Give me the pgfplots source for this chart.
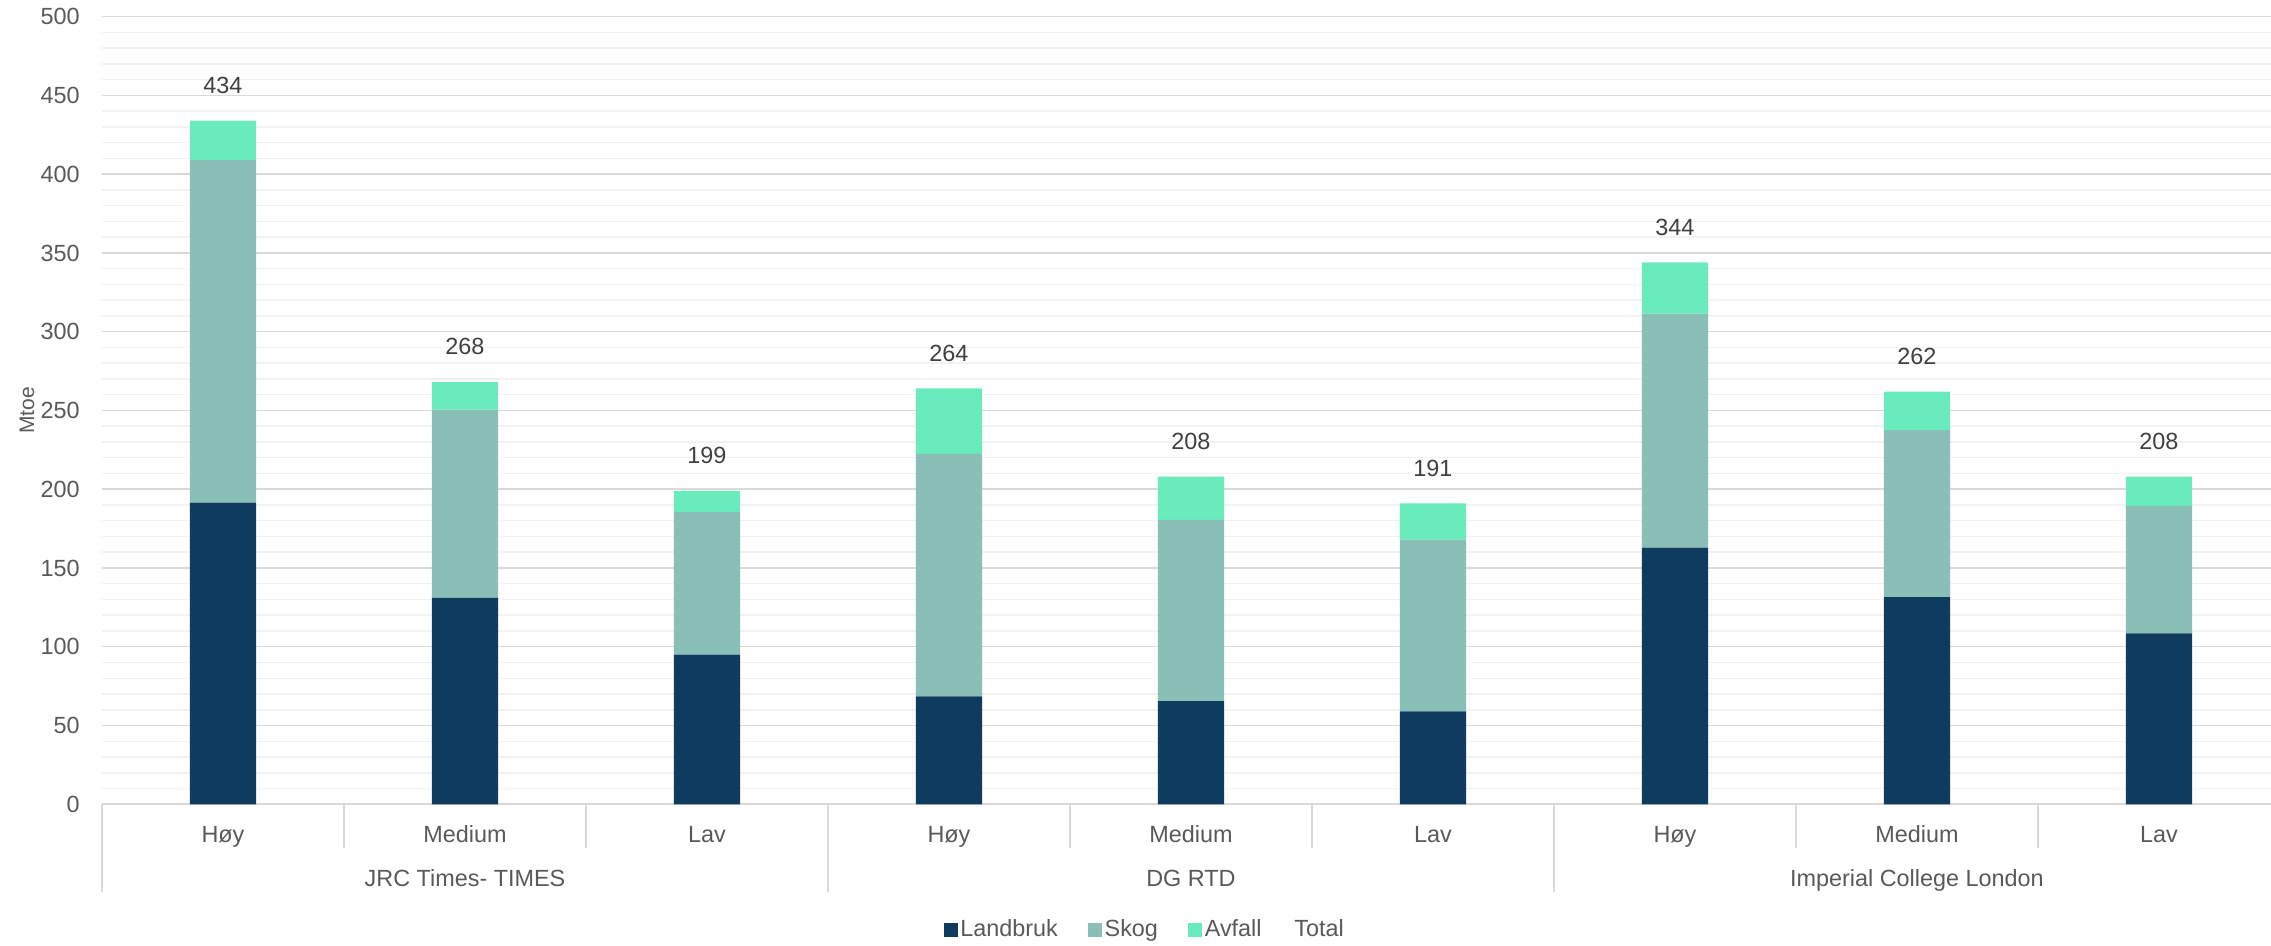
\documentclass[border=0pt]{standalone}
\usepackage{fontspec}
\setmainfont{Liberation Sans}
\usepackage{pgfplots}
\usepackage{pgfplotstable}
\pgfplotsset{compat=1.18}

\definecolor{landbruk}{HTML}{0E3B5E}
\definecolor{skog}{HTML}{8ABFB7}
\definecolor{avfall}{HTML}{69EBBB}
\definecolor{txt}{HTML}{595959}
\definecolor{lbl}{HTML}{404040}
\definecolor{gridmaj}{HTML}{D9D9D9}
\definecolor{gridmin}{HTML}{F2F2F2}

\newcommand\lab{\fontsize{11.7}{14}\selectfont}

% Biomass potential (Mtoe) per study and scenario
\pgfplotstableread{
idx landbruk skog  avfall total
0   191.5    217.5 25.0   434
1   131.0    119.5 17.5   268
2   95.0     90.5  13.5   199
3   68.5     154.0 41.5   264
4   65.5     115.0 27.5   208
5   59.0     109.0 23.0   191
6   163.0    148.5 32.5   344
7   131.5    106.0 24.5   262
8   108.5    81.0  18.5   208
}\biomass

\pgfplotsset{
  frame/.style={
    scale only axis, width=1084.5pt, height=393.8pt,
    xmin=-0.5, xmax=8.463, ymin=0, ymax=500,
    clip=false,
  }
}

\begin{document}
\begin{tikzpicture}
\begin{axis}[
  name=ax, frame,
  ybar stacked, bar width=33.2pt,
  axis line style={draw=none},
  ytick={0,50,...,500}, minor y tick num=4,
  ymajorgrids, yminorgrids,
  major grid style={gridmaj, line width=0.75pt},
  minor grid style={gridmin, line width=0.75pt},
  xtick={0,...,8},
  xticklabels={Høy,Medium,Lav,Høy,Medium,Lav,Høy,Medium,Lav},
  major tick length=0pt, minor tick length=0pt,
  tick style={draw=none},
  xticklabel style={anchor=base, yshift=-19.35pt, font=\lab, text=txt},
  yticklabel style={anchor=east, inner sep=0pt, xshift=-11pt, font=\lab, text=txt},
  /pgf/number format/assume math mode=true,
  ylabel={Mtoe},
  ylabel style={at={(axis description cs:-0.0346,0.5)}, anchor=center, font=\fontsize{10.5}{12}\selectfont, text=txt},
  legend columns=4,
  legend cell align=left,
  legend image code/.code={\fill[#1] (0pt,-3.5pt) rectangle (7pt,3.5pt);},
  legend style={draw=none, fill=none, at={(axis description cs:0.4809,-0.1596)}, anchor=center,
    font=\lab, text=txt, inner sep=0pt,
    nodes={inner sep=1.2pt},
    /tikz/every even column/.append style={column sep=14pt}},
]
\addplot[fill=landbruk, draw=none] table[x=idx, y=landbruk] {\biomass};
\addplot[fill=skog, draw=none] table[x=idx, y=skog] {\biomass};
\addplot[fill=avfall, draw=none] table[x=idx, y=avfall] {\biomass};
\addlegendimage{empty legend}
\legend{Landbruk,Skog,Avfall,Total}

% category axis line and separators
\draw[gridmaj, line width=1pt] (axis cs:-0.5,0) -- (axis cs:8.463,0);
\pgfplotsinvokeforeach{0.5,1.5,3.5,4.5,6.5,7.5}{
  \draw[gridmaj, line width=1pt] (axis cs:#1,0) -- ([yshift=-21.85pt]axis cs:#1,0);
}
\pgfplotsinvokeforeach{-0.5,2.5,5.5}{
  \draw[gridmaj, line width=1pt] (axis cs:#1,0) -- ([yshift=-43.7pt]axis cs:#1,0);
}
% study names
\node[anchor=base, font=\lab, text=txt] at ([yshift=-41.2pt]axis cs:1,0) {JRC Times- TIMES};
\node[anchor=base, font=\lab, text=txt] at ([yshift=-41.2pt]axis cs:4,0) {DG RTD};
\node[anchor=base, font=\lab, text=txt] at ([yshift=-41.2pt]axis cs:7,0) {Imperial College London};
\end{axis}

% totals written above each stack
\begin{axis}[frame, at={(ax.south west)}, anchor=south west, hide axis,
  /pgf/number format/assume math mode=true]
\addplot[draw=none, mark=none, nodes near coords, point meta=explicit,
  nodes near coords style={anchor=base, yshift=13.65pt, inner sep=0pt, font=\lab, text=lbl}]
  table[x=idx, y=total, meta=total] {\biomass};
\end{axis}

\pgfresetboundingbox
\path ([xshift=-51pt,yshift=-70.85pt]ax.south west) rectangle ([yshift=8.35pt]ax.north east);
\end{tikzpicture}
\end{document}
